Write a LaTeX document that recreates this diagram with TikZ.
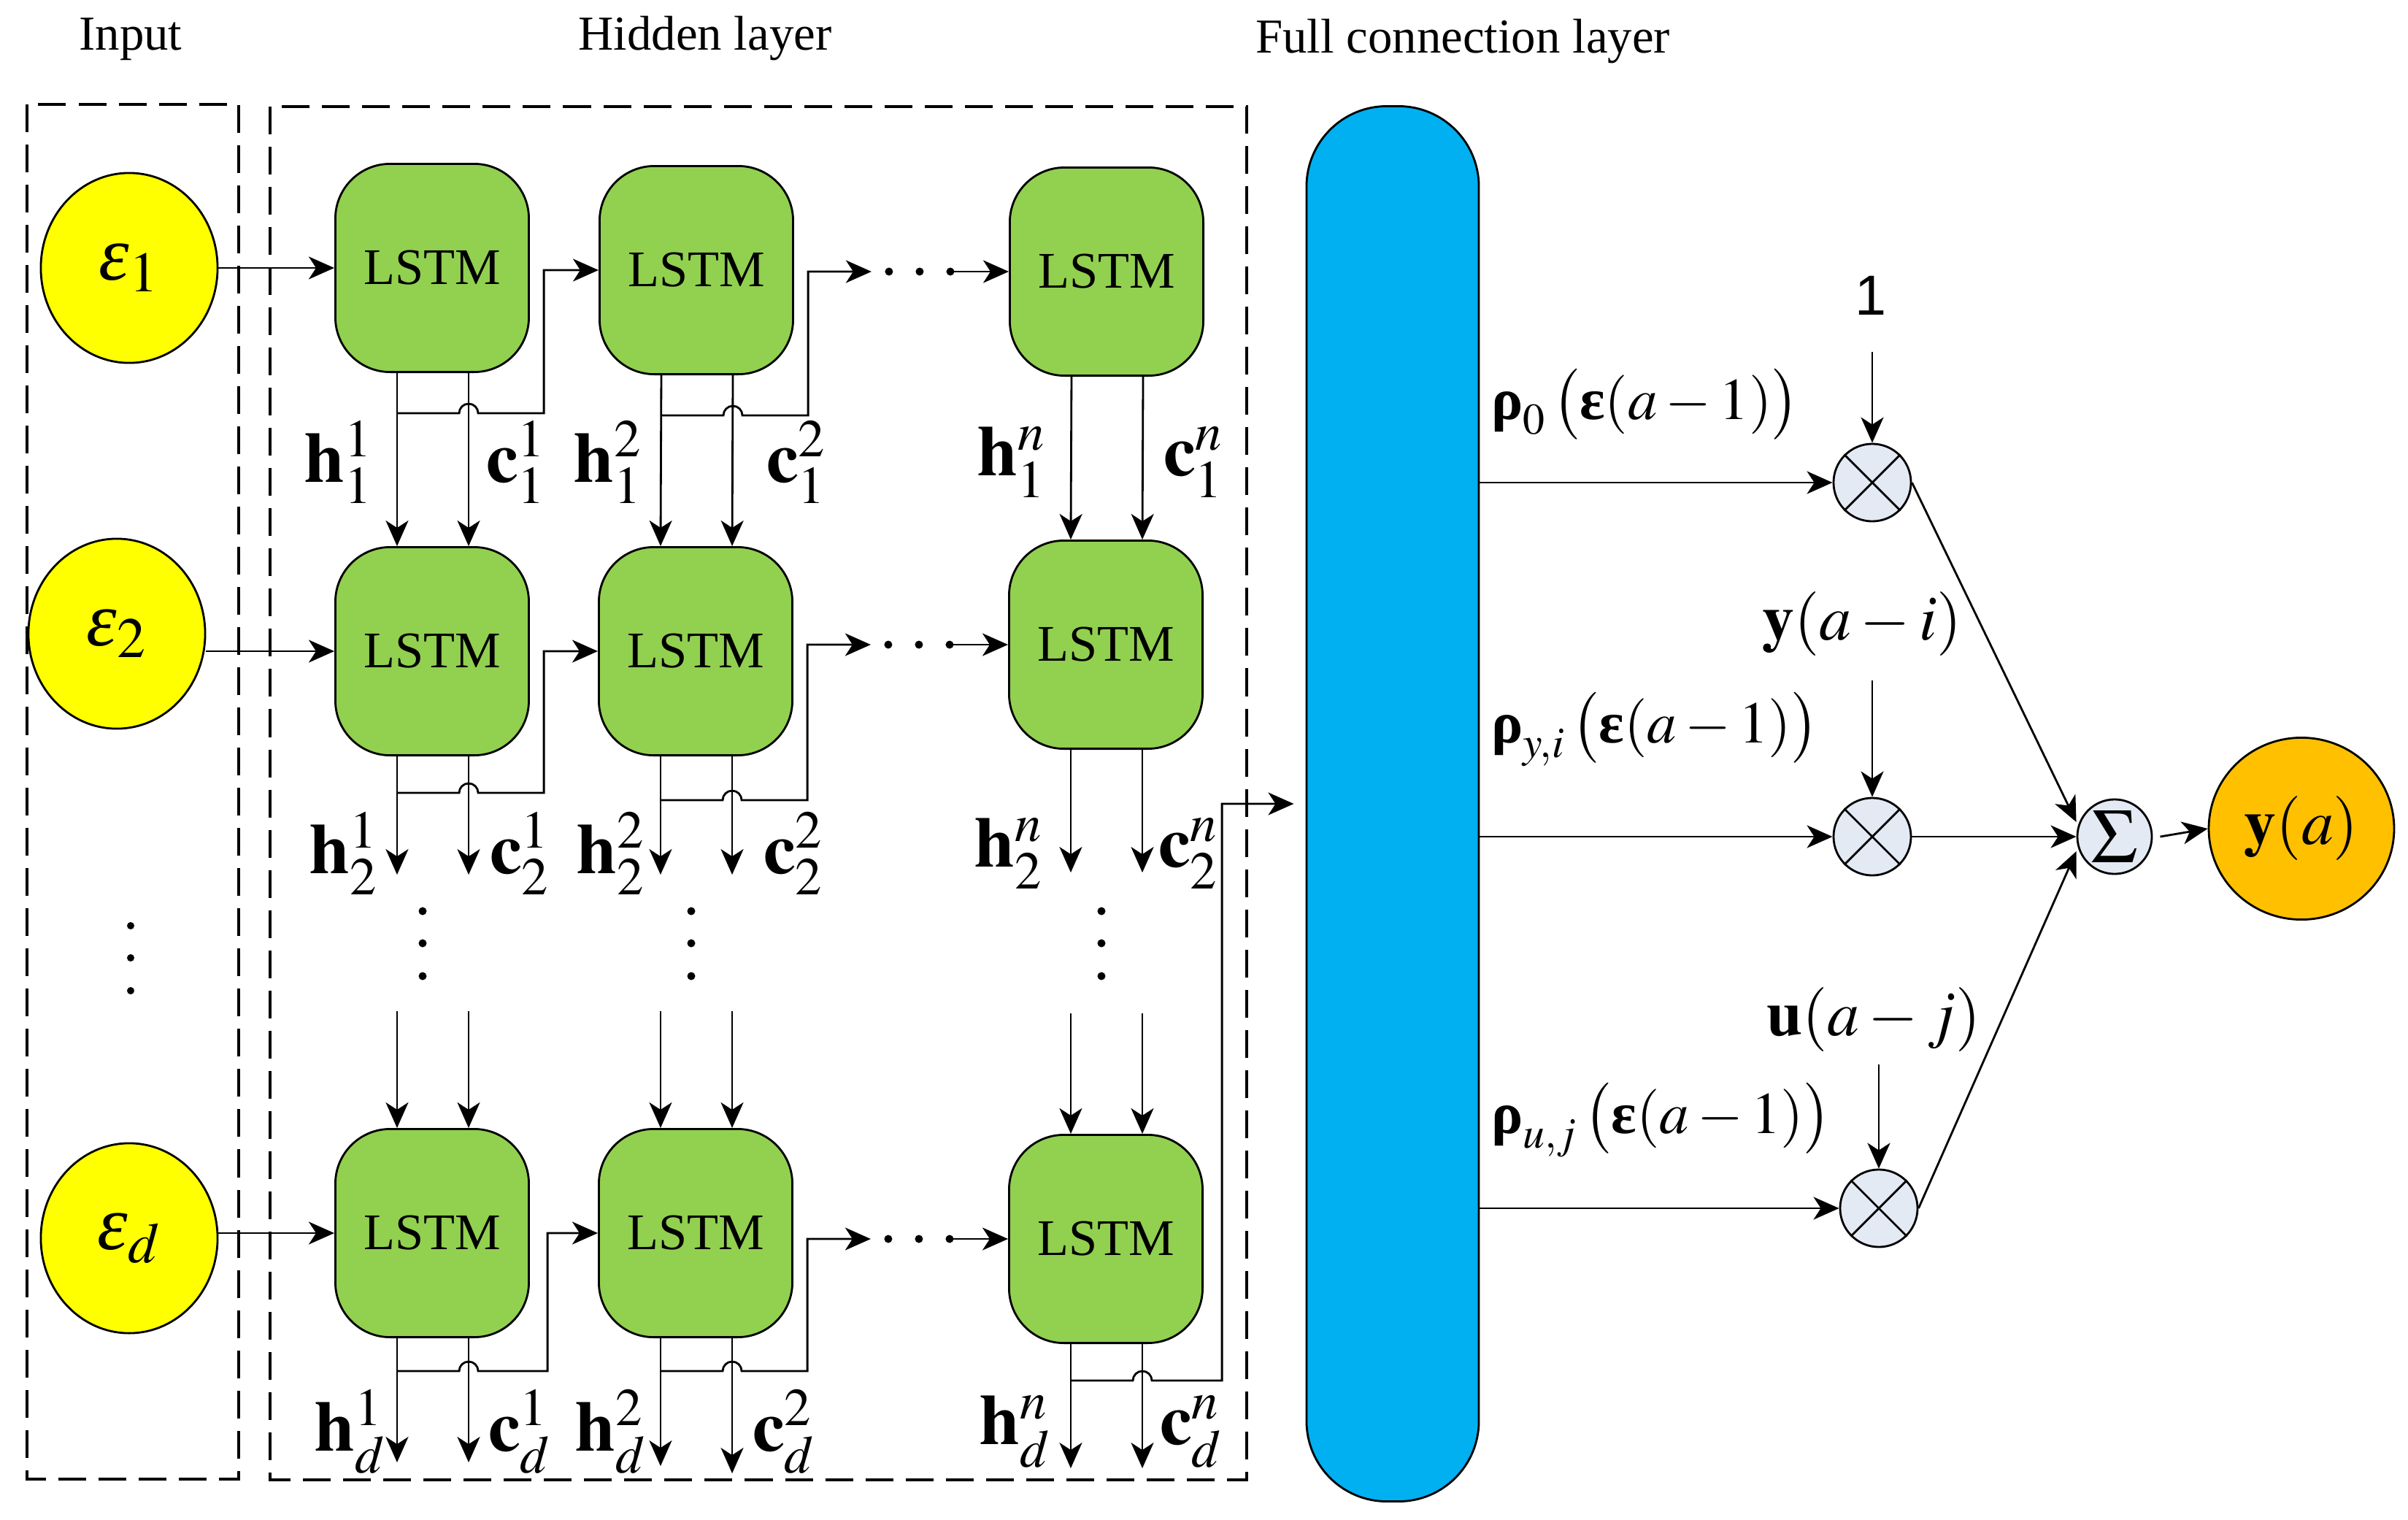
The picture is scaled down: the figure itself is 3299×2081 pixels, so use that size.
\documentclass[tikz,border=0pt]{standalone}
\usepackage{mathptmx}
\usepackage{amsmath}
\usepackage{fontspec}
\setmainfont{Liberation Serif}
\newfontfamily\arialfont{Liberation Sans}
\usetikzlibrary{arrows.meta,shapes.geometric,calc}
\definecolor{lstmgreen}{HTML}{92D050}
\definecolor{fcblue}{HTML}{00B0F0}
\definecolor{inyellow}{HTML}{FFFF00}
\definecolor{outorange}{HTML}{FFC000}
\definecolor{multgray}{HTML}{E4EAF4}

\begin{document}
\begin{tikzpicture}[x=0.01cm, y=-0.01cm, line width=0.8pt,
  arr/.style={-{Stealth[length=0.35cm,width=0.31cm,inset=0.1cm]}},
  lstm/.style={draw, fill=lstmgreen, rounded corners=0.75cm, minimum width=2.65cm, minimum height=2.85cm, font=\fontsize{20}{20}\selectfont},
  inp/.style={draw, ellipse, fill=inyellow, minimum width=2.42cm, minimum height=2.6cm, font=\fontsize{30}{30}\selectfont},
  mult/.style={draw, circle, fill=multgray, minimum size=1.06cm, inner sep=0pt},
  dbox/.style={dash pattern=on 0.38cm off 0.17cm, line width=1.3pt},
  title/.style={font=\fontsize{19}{19}\selectfont},
  lbl/.style={font=\fontsize{28}{28}\selectfont},
  rlbl/.style={anchor=west, font=\fontsize{23}{23}\selectfont},
  ilbl/.style={inner sep=1pt, font=\fontsize{25}{25}\selectfont}]

\useasboundingbox (0,0) rectangle (3299,2081);

\node[title] (tin) at (179,54) {Input};
\node[title] (thid) at (966,53) {Hidden layer};
\node[title] (tfc) at (2004,57) {Full connection layer};

\draw[dbox] (37,143) rectangle (327,2026);
\draw[dbox] (370,146) rectangle (1708,2027);

\node[inp] (e1) at (177,367) {$\mbox{\itshape ε}_1$};
\node[inp] (e2) at (160,868) {$\mbox{\itshape ε}_2$};
\node[inp] (ed) at (177,1696) {$\mbox{\itshape ε}_d$};
\fill (179,1268) circle (0.05cm);
\fill (179,1312) circle (0.05cm);
\fill (179,1357) circle (0.05cm);

\node[lstm] (l11) at (592,367) {LSTM};
\node[lstm] (l12) at (954,370) {LSTM};
\node[lstm] (l1n) at (1516,372) {LSTM};
\node[lstm] (l21) at (592,892) {LSTM};
\node[lstm] (l22) at (953,892) {LSTM};
\node[lstm] (l2n) at (1515,883) {LSTM};
\node[lstm] (ld1) at (592,1689) {LSTM};
\node[lstm] (ld2) at (953,1689) {LSTM};
\node[lstm] (ldn) at (1515,1697) {LSTM};

\draw[arr] (e1.east |- l11.west) -- (l11.west);
\draw[arr] (e2.east |- l21.west) -- (l21.west);
\draw[arr] (ed.east |- ld1.west) -- (ld1.west);

\coordinate (r1a) at ([xshift=-1.88cm]l1n.west);
\coordinate (r2a) at ([xshift=-1.88cm]l2n.west);
\coordinate (rda) at ([xshift=-1.88cm]ldn.west);

\draw[arr] ([xshift=-0.48cm,yshift=-0.55cm]l11.south) -- ++(0.85cm,0) arc (180:0:0.13cm) -- ++(0.9cm,0) |- (l12.west);
\draw[arr] ([xshift=-0.48cm,yshift=-0.55cm]l12.south) -- ++(0.85cm,0) arc (180:0:0.13cm) -- ++(0.9cm,0) |- (r1a);
\fill ([xshift=-1.64cm]l1n.west) circle (0.055cm);
\fill ([xshift=-1.22cm]l1n.west) circle (0.055cm);
\fill ([xshift=-0.80cm]l1n.west) circle (0.055cm);
\draw[arr] ([xshift=-0.78cm]l1n.west) -- (l1n.west);

\draw[arr] ([xshift=-0.48cm,yshift=-0.5cm]l21.south) -- ++(0.85cm,0) arc (180:0:0.13cm) -- ++(0.9cm,0) |- (l22.west);
\draw[arr] ([xshift=-0.48cm,yshift=-0.6cm]l22.south) -- ++(0.85cm,0) arc (180:0:0.13cm) -- ++(0.9cm,0) |- (r2a);
\fill ([xshift=-1.64cm]l2n.west) circle (0.055cm);
\fill ([xshift=-1.22cm]l2n.west) circle (0.055cm);
\fill ([xshift=-0.80cm]l2n.west) circle (0.055cm);
\draw[arr] ([xshift=-0.78cm]l2n.west) -- (l2n.west);

\draw[arr] ([xshift=-0.48cm,yshift=-0.45cm]ld1.south) -- ++(0.85cm,0) arc (180:0:0.13cm) -- ++(0.95cm,0) |- (ld2.west);
\draw[arr] ([xshift=-0.48cm,yshift=-0.45cm]ld2.south) -- ++(0.85cm,0) arc (180:0:0.13cm) -- ++(0.9cm,0) |- (rda);
\fill ([xshift=-1.64cm]ldn.west) circle (0.055cm);
\fill ([xshift=-1.22cm]ldn.west) circle (0.055cm);
\fill ([xshift=-0.80cm]ldn.west) circle (0.055cm);
\draw[arr] ([xshift=-0.78cm]ldn.west) -- (ldn.west);

\draw[arr] ([xshift=-0.48cm]l11.south) -- ([xshift=-0.48cm]l21.north);
\draw[arr] ([xshift=0.5cm]l11.south) -- ([xshift=0.5cm]l21.north);
\draw[arr] ([xshift=-0.48cm]l12.south) -- ([xshift=-0.48cm]l22.north);
\draw[arr] ([xshift=0.5cm]l12.south) -- ([xshift=0.5cm]l22.north);
\draw[arr] ([xshift=-0.48cm]l1n.south) -- ([xshift=-0.48cm]l2n.north);
\draw[arr] ([xshift=0.5cm]l1n.south) -- ([xshift=0.5cm]l2n.north);

\draw[arr] ([xshift=-0.48cm]l21.south) -- ++(0,-1.62cm);
\draw[arr] ([xshift=0.5cm]l21.south) -- ++(0,-1.62cm);
\draw[arr] ([xshift=-0.48cm]l22.south) -- ++(0,-1.62cm);
\draw[arr] ([xshift=0.5cm]l22.south) -- ++(0,-1.62cm);
\draw[arr] ([xshift=-0.48cm]l2n.south) -- ++(0,-1.68cm);
\draw[arr] ([xshift=0.5cm]l2n.south) -- ++(0,-1.68cm);

\fill (579,1248) circle (0.055cm);
\fill (579,1292) circle (0.055cm);
\fill (579,1337) circle (0.055cm);
\fill (947,1248) circle (0.055cm);
\fill (947,1292) circle (0.055cm);
\fill (947,1337) circle (0.055cm);
\fill (1509,1248) circle (0.055cm);
\fill (1509,1292) circle (0.055cm);
\fill (1509,1337) circle (0.055cm);

\draw[arr] ([xshift=-0.48cm,yshift=1.6cm]ld1.north) -- ([xshift=-0.48cm]ld1.north);
\draw[arr] ([xshift=0.5cm,yshift=1.6cm]ld1.north) -- ([xshift=0.5cm]ld1.north);
\draw[arr] ([xshift=-0.48cm,yshift=1.6cm]ld2.north) -- ([xshift=-0.48cm]ld2.north);
\draw[arr] ([xshift=0.5cm,yshift=1.6cm]ld2.north) -- ([xshift=0.5cm]ld2.north);
\draw[arr] ([xshift=-0.48cm,yshift=1.65cm]ldn.north) -- ([xshift=-0.48cm]ldn.north);
\draw[arr] ([xshift=0.5cm,yshift=1.65cm]ldn.north) -- ([xshift=0.5cm]ldn.north);

\draw[arr] ([xshift=-0.48cm]ld1.south) -- ++(0,-1.7cm);
\draw[arr] ([xshift=0.5cm]ld1.south) -- ++(0,-1.7cm);
\draw[arr] ([xshift=-0.48cm]ld2.south) -- ++(0,-1.75cm);
\draw[arr] ([xshift=0.5cm]ld2.south) -- ++(0,-1.85cm);
\draw[arr] ([xshift=-0.48cm]ldn.south) -- ++(0,-1.7cm);
\draw[arr] ([xshift=0.5cm]ldn.south) -- ++(0,-1.7cm);

\node[lbl] (h11) at (464,633) {$\mathbf{h}_1^1$};
\node[lbl] (c11) at (707,633) {$\mathbf{c}_1^1$};
\node[lbl] (h12) at (833,633) {$\mathbf{h}_1^2$};
\node[lbl] (c12) at (1091,633) {$\mathbf{c}_1^2$};
\node[lbl] (h1n) at (1386,633) {$\mathbf{h}_1^n$};
\node[lbl] (c1n) at (1635,633) {$\mathbf{c}_1^n$};
\node[lbl] (h21) at (471,1169) {$\mathbf{h}_2^1$};
\node[lbl] (c21) at (712,1169) {$\mathbf{c}_2^1$};
\node[lbl] (h22) at (837,1169) {$\mathbf{h}_2^2$};
\node[lbl] (c22) at (1087,1169) {$\mathbf{c}_2^2$};
\node[lbl] (h2n) at (1382,1169) {$\mathbf{h}_2^n$};
\node[lbl] (c2n) at (1628,1169) {$\mathbf{c}_2^n$};
\node[lbl] (hd1) at (480,1961) {$\mathbf{h}_d^1$};
\node[lbl] (cd1) at (712,1961) {$\mathbf{c}_d^1$};
\node[lbl] (hd2) at (837,1961) {$\mathbf{h}_d^2$};
\node[lbl] (cd2) at (1074,1961) {$\mathbf{c}_d^2$};
\node[lbl] (hdn) at (1391,1961) {$\mathbf{h}_d^n$};
\node[lbl] (cdn) at (1632,1961) {$\mathbf{c}_d^n$};

\node[draw, fill=fcblue, rounded corners=1.1cm, minimum width=2.36cm, minimum height=19.1cm] (fc) at (1908,1101) {};
\draw[arr, shorten >=0.16cm] ([xshift=-0.48cm,yshift=-0.5cm]ldn.south) -- ++(0.85cm,0) arc (180:0:0.13cm) -- ++(0.96cm,0) |- (fc.west);

\node[mult] (m1) at (2565,661) {};
\node[mult] (m2) at (2565,1146) {};
\node[mult] (m3) at (2574,1655) {};
\draw (m1.north west) -- (m1.south east) (m1.north east) -- (m1.south west);
\draw (m2.north west) -- (m2.south east) (m2.north east) -- (m2.south west);
\draw (m3.north west) -- (m3.south east) (m3.north east) -- (m3.south west);
\node[mult, minimum size=1.02cm, font=\fontsize{30}{30}\selectfont] (s) at (2897,1146) {$\Sigma$};
\node[draw, ellipse, fill=outorange, minimum width=2.32cm, minimum height=2.49cm, font=\fontsize{25}{25}\selectfont] (ya) at (3153,1135) {$\mathbf{y}(a)$};

\node[rlbl] (rho0) at (2030,554) {$\mbox{\bfseries ρ}_0\,\bigl(\mbox{\bfseries ε}(a-1)\bigr)$};
\node[rlbl] (rhoy) at (2030,999) {$\mbox{\bfseries ρ}_{y,i}\,\bigl(\mbox{\bfseries ε}(a-1)\bigr)$};
\node[rlbl] (rhou) at (2030,1534) {$\mbox{\bfseries ρ}_{u,j}\,\bigl(\mbox{\bfseries ε}(a-1)\bigr)$};
\node[font=\arialfont\fontsize{22}{22}\selectfont] (one) at (2563,405) {1};
\node[ilbl] (yai) at (2551,855) {$\mathbf{y}(a-i)$};
\node[ilbl] (uaj) at (2567,1396) {$\mathbf{u}(a-j)$};

\coordinate (a1) at (2565,482);
\coordinate (a2) at (2565,932);
\coordinate (a3) at (2574,1458);
\draw[arr] (a1) -- (m1);
\draw[arr] (a2) -- (m2);
\draw[arr] (a3) -- (m3);

\draw[arr] (fc.east |- m1) -- (m1);
\draw[arr] (fc.east |- m2) -- (m2);
\draw[arr] (fc.east |- m3) -- (m3);

\draw[arr] (m1.east) -- ([yshift=0.2cm]s.west);
\draw[arr] (m2) -- (s);
\draw[arr] (m3.east) -- ([yshift=-0.2cm]s.west);
\draw[arr] ([xshift=0.1cm]s.east) -- (ya.west);

\end{tikzpicture}
\end{document}
